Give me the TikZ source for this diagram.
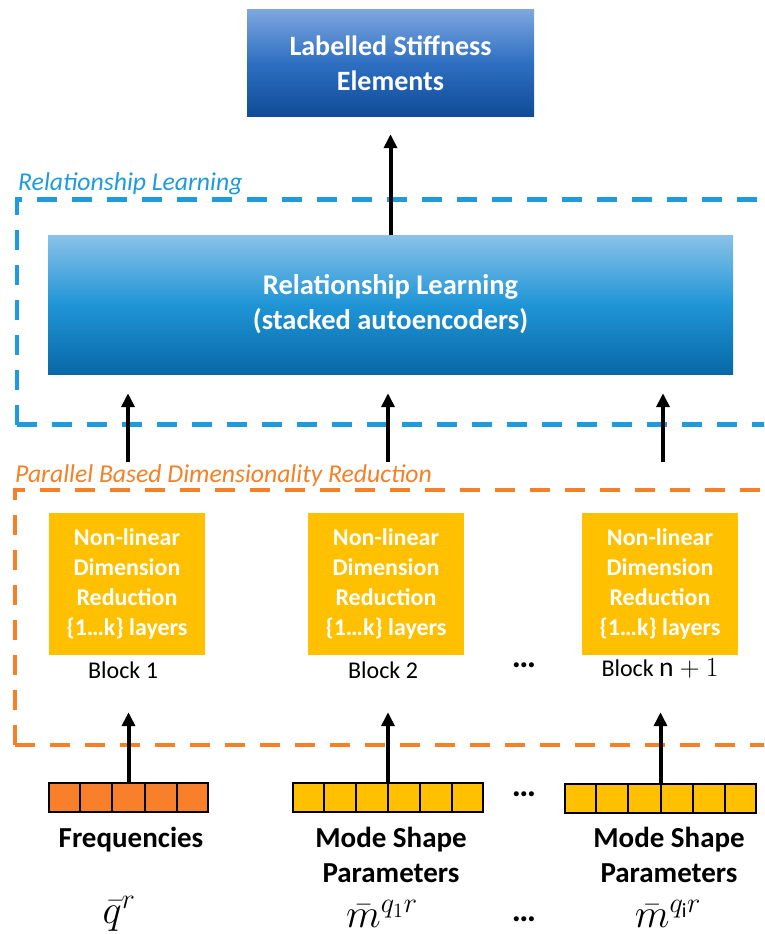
\RequirePackage{fix-cm}
\documentclass[tikz,border=0pt]{standalone}
\usepackage{fontspec}
\setmainfont{Carlito}
\usetikzlibrary{arrows.meta,calc}

\definecolor{stiffTop}{HTML}{7DA6DE}
\definecolor{stiffMid}{HTML}{2E6FC2}
\definecolor{stiffBot}{HTML}{104C97}
\definecolor{relTop}{HTML}{8AC2E8}
\definecolor{relMid}{HTML}{1F95D6}
\definecolor{relBot}{HTML}{0868A6}
\definecolor{relDash}{HTML}{1E9BDC}
\definecolor{parDash}{HTML}{F58025}
\definecolor{gold}{HTML}{FFC000}
\definecolor{freqOrange}{HTML}{F8802A}

\begin{document}
\begin{tikzpicture}[x=1pt,y=-1pt,
  stiff/.style={rectangle, inner sep=0pt, minimum width=287pt, minimum height=106pt,
    top color=stiffTop, bottom color=stiffBot, middle color=stiffMid,
    text=white, align=center, font=\fontsize{28}{35}\selectfont\bfseries},
  rel/.style={rectangle, inner sep=0pt, minimum width=685pt, minimum height=139pt,
    top color=relTop, bottom color=relBot, middle color=relMid,
    text=white, align=center, font=\fontsize{28.5}{35}\selectfont\bfseries},
  grouplabel/.style={inner sep=0pt, font=\fontsize{25.7}{30}\selectfont\itshape},
  groupdash/.style={line width=4.5pt, dash pattern=on 20pt off 15pt},
  block/.style={rectangle, inner sep=0pt, fill=gold, minimum width=156pt, minimum height=142pt,
    text=white, align=center, font=\fontsize{24}{30}\selectfont\bfseries},
  blocklabel/.style={inner sep=0pt, font=\fontsize{24}{28}\selectfont},
  dotsep/.style={inner sep=0pt, font=\fontsize{34}{36}\selectfont\bfseries},
  vec/.style={rectangle, inner sep=0pt, draw=black, line width=2pt, minimum height=29pt},
  inlabel/.style={inner sep=0pt, align=center, font=\fontsize{29}{35}\selectfont\bfseries},
  mathlabel/.style={inner sep=0pt, scale=1.35, font=\fontsize{30}{36}\selectfont},
  arr/.style={line width=4pt, -{Triangle[width=13pt,length=14pt]}}
]
\path[use as bounding box] (0,0) rectangle (764,934);

% dashed group outlines, open to the right edge
\begin{scope}
  \clip (0,0) rectangle (764,934);
  \draw[groupdash, relDash] (17,424.5) -- (17,199.5) -- (800,199.5);
  \draw[groupdash, relDash] (17,424.5) -- (800,424.5);
  \draw[groupdash, parDash] (15,745) -- (15,490) -- (800,490);
  \draw[groupdash, parDash] (15,745) -- (800,745);
\end{scope}

\node[grouplabel, text=relDash, anchor=base west] (rlab) at (18,190) {Relationship Learning};
\node[grouplabel, text=parDash, anchor=base west] (plab) at (15,482) {Parallel Based Dimensionality Reduction};

% output and learning stages
\node[stiff] (out) at (390.5,63) {Labelled Stiffness\\Elements};
\node[rel] (rl) at (390.5,304.5) {Relationship Learning\\(stacked autoencoders)};

% dimension reduction blocks
\node[block] (b1) at (127,584) {Non-linear\\Dimension\\Reduction\\\{1…k\} layers};
\node[block] (b2) at (386,584) {Non-linear\\Dimension\\Reduction\\\{1…k\} layers};
\node[block] (b3) at (660,584) {Non-linear\\Dimension\\Reduction\\\{1…k\} layers};
\node[blocklabel] (l1) at (123,670) {Block 1};
\node[blocklabel] (l2) at (383,670) {Block 2};
\node[blocklabel] (l3) at (660,668) {Block \scalebox{1.15}{$\mathrm{n}+1$}};
\node[dotsep] (d1) at (524,665) {…};

% input vectors
\node[vec, fill=freqOrange, minimum width=159pt] (v1) at (128.5,797.5) {};
\node[vec, fill=gold, minimum width=190pt] (v2) at (388,797.5) {};
\node[vec, fill=gold, minimum width=191pt] (v3) at (660.5,798.5) {};
\foreach \i in {1,...,4}
  \draw[line width=2pt] ($(v1.north west)!\i/5!(v1.north east)$) -- ($(v1.south west)!\i/5!(v1.south east)$);
\foreach \i in {1,...,5} {
  \draw[line width=2pt] ($(v2.north west)!\i/6!(v2.north east)$) -- ($(v2.south west)!\i/6!(v2.south east)$);
  \draw[line width=2pt] ($(v3.north west)!\i/6!(v3.north east)$) -- ($(v3.south west)!\i/6!(v3.south east)$);
}
\node[dotsep] (d2) at (524,794) {…};

\node[inlabel] (f1) at (131,840) {Frequencies};
\node[inlabel] (f2) at (391,854.5) {Mode Shape\\Parameters};
\node[inlabel] (f3) at (669,854.5) {Mode Shape\\Parameters};

\node[mathlabel] (m1) at (119,914) {$\bar{q}^{r}$};
\node[mathlabel] (m2) at (382,914) {$\bar{m}^{q_1 r}$};
\node[mathlabel] (m3) at (668,914) {$\bar{m}^{q_{\mathrm{i}} r}$};
\node[dotsep] (d3) at (524,919) {…};

% connectors
\coordinate (s1) at (128,462);
\coordinate (s2) at (388,462);
\coordinate (s3) at (663,462);
\draw[arr, shorten >=18pt] (rl.north) -- (out.south);
\draw[arr, shorten >=19pt] (s1) -- (s1 |- rl.south);
\draw[arr, shorten >=19pt] (s2) -- (s2 |- rl.south);
\draw[arr, shorten >=19pt] (s3) -- (s3 |- rl.south);
\draw[arr, shorten >=57pt] (v1.north) -- (v1.north |- b1.south);
\draw[arr, shorten >=57pt] (v2.north) -- (v2.north |- b2.south);
\draw[arr, shorten >=57pt] (v3.north) -- (v3.north |- b3.south);
\end{tikzpicture}
\end{document}
